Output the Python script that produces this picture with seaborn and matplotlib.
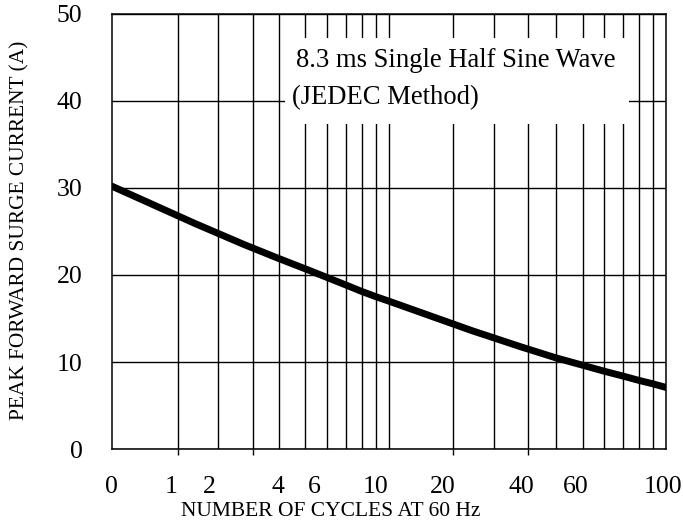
import numpy as np
import pandas as pd
import matplotlib
matplotlib.use('Agg')
import matplotlib.pyplot as plt
import seaborn as sns
from matplotlib.patches import Rectangle
from matplotlib.ticker import NullLocator, NullFormatter

# surge current curve
cycles = [1, 2, 3, 4, 5, 6, 7, 8, 9, 10, 20, 30, 40, 50, 60, 70, 80, 90, 100]
current = [30.2, 25.9, 23.5, 21.9, 20.7, 19.7, 18.85, 18.1, 17.5, 17.0,
           13.6, 11.75, 10.5, 9.65, 8.95, 8.4, 7.9, 7.5, 7.1]

# x tick labels sit at odd places on the original chart
x_tick_labels = ['0', '1', '2', '4', '6', '10', '20', '40', '60', '100']
x_tick_pos = [1.0, 1.64, 2.26, 3.99, 5.39, 8.97, 15.6, 30.1, 47.1, 97.4]
y_ticks = [0, 10, 20, 30, 40, 50]

# vertical grid lines and the few tick marks under the axis
grid_x = [1.73, 2.42, 3.24, 4, 5, 6, 7, 8, 9, 10,
          17, 24, 31.7, 40, 50, 60, 70, 80, 90]
mark_x = [1.73, 3.24, 17, 31.7]

df = pd.DataFrame({'cycles': cycles, 'current': current})

sns.set_theme(style='white')
plt.rcParams['font.family'] = ['Liberation Serif', 'DejaVu Serif']
plt.rcParams['axes.edgecolor'] = 'black'
plt.rcParams['axes.linewidth'] = 1.1

fig, ax = plt.subplots(figsize=(6.83, 5.2), dpi=100)
fig.subplots_adjust(left=0.1635, right=0.975, bottom=0.136, top=0.974)

sns.lineplot(data=df, x='cycles', y='current', color='black', lw=5,
             ax=ax, zorder=2)

ax.set_xscale('log')
ax.set_xlim(1, 100)
ax.set_ylim(0, 50)

ax.set_xticks(x_tick_pos, labels=x_tick_labels)
ax.set_xticks(grid_x, minor=True)
ax.xaxis.set_minor_formatter(NullFormatter())
ax.set_yticks(y_ticks)
ax.yaxis.set_minor_locator(NullLocator())

ax.grid(False)
ax.grid(True, which='minor', axis='x', color='black', lw=1.0)
ax.grid(True, which='major', axis='y', color='black', lw=1.0)
ax.set_axisbelow(True)

ax.tick_params(axis='both', which='both', length=0, labelsize=18.5,
               colors='black')
ax.tick_params(axis='x', pad=19)
ax.tick_params(axis='y', pad=21)

# small outward tick marks under the bottom axis
twin = ax.twiny()
twin.set_xscale('log')
twin.set_xlim(1, 100)
twin.xaxis.set_ticks_position('bottom')
twin.set_xticks(mark_x)
twin.xaxis.set_minor_locator(NullLocator())
twin.xaxis.set_major_formatter(NullFormatter())
twin.tick_params(axis='x', which='major', length=4, width=1.0,
                 direction='out', color='black', bottom=True, top=False,
                 labelbottom=False, labeltop=False)
for s in twin.spines.values():
    s.set_visible(False)

ax.set_xlabel('NUMBER OF CYCLES AT 60 Hz', fontsize=15.5, color='black')
ax.set_ylabel('PEAK FORWARD SURGE CURRENT (A)', fontsize=15.4, color='black')
ax.xaxis.set_label_coords(0.396, -0.121)
ax.yaxis.set_label_coords(-0.148, 0.503)

# white box behind the note, it cuts the grid
ax.add_patch(Rectangle((0.3127, 0.746), 0.62, 0.197, transform=ax.transAxes,
                       facecolor='white', edgecolor='none', zorder=1))
ax.text(0.333, 0.8775, '8.3 ms Single Half Sine Wave', transform=ax.transAxes,
        ha='left', va='baseline', fontsize=19.2, color='black', zorder=3)
ax.text(0.326, 0.792, '(JEDEC Method)', transform=ax.transAxes,
        ha='left', va='baseline', fontsize=19.2, color='black', zorder=3)

for s in ax.spines.values():
    s.set_visible(True)
    s.set_color('black')

fig.savefig('out.png', dpi=100)
